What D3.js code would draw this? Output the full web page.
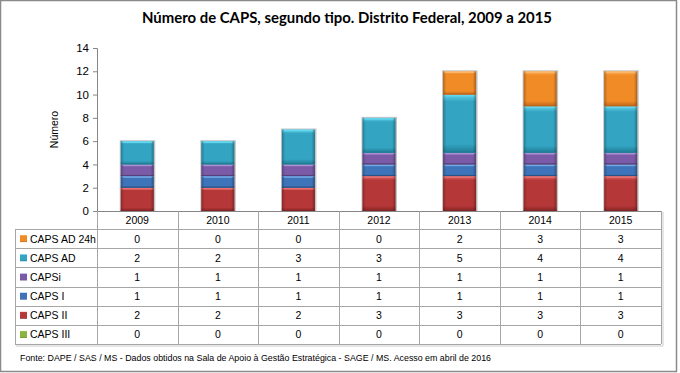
<!DOCTYPE html>
<html>
<head>
<meta charset="utf-8">
<script src="https://d3js.org/d3.v7.min.js"></script>
<style>
  body { margin: 0; background: #fff; }
  text { font-family: "Liberation Sans", Arial, sans-serif; }
</style>
</head>
<body>
<svg width="680" height="373" id="chart"></svg>
<script>

// data
var years = ['2009', '2010', '2011', '2012', '2013', '2014', '2015'];
var capsAD24h = [0, 0, 0, 0, 2, 3, 3];
var capsAD    = [2, 2, 3, 3, 5, 4, 4];
var capsi     = [1, 1, 1, 1, 1, 1, 1];
var capsI     = [1, 1, 1, 1, 1, 1, 1];
var capsII    = [2, 2, 2, 3, 3, 3, 3];
var capsIII   = [0, 0, 0, 0, 0, 0, 0];
var yTicks = [0, 2, 4, 6, 8, 10, 12, 14];

// stack order bottom -> top, table order is the reverse
var series = [
  {key: 'CAPS III',    values: capsIII,   c: ['#b8d76e', '#8cb23f', '#65842a']},
  {key: 'CAPS II',     values: capsII,    c: ['#ec7070', '#b63738', '#842425']},
  {key: 'CAPS I',      values: capsI,     c: ['#72a8e6', '#3e74b9', '#2a5288']},
  {key: 'CAPSi',       values: capsi,     c: ['#ad90d4', '#7b5ba7', '#56407a']},
  {key: 'CAPS AD',     values: capsAD,    c: ['#64d6ee', '#33a4c2', '#1f7b93']},
  {key: 'CAPS AD 24h', values: capsAD24h, c: ['#fcb566', '#f18b26', '#be651a']}
];

var svg = d3.select('#chart');

var plotL = 97, plotR = 661, plotT = 48, plotB = 211;
var rowTop = 229, rowH = 19.17, legendLeft = 15;

var x = d3.scaleBand()
    .domain(years)
    .range([plotL, plotR])
    .paddingInner(0.59)
    .paddingOuter(0.295);

var y = d3.scaleLinear()
    .domain([0, 14])
    .range([plotB, plotT]);

// gradients
var defs = svg.append('defs');
series.forEach(function (s, i) {
  var g = defs.append('linearGradient')
      .attr('id', 'gv' + i)
      .attr('x1', 0).attr('y1', 0).attr('x2', 0).attr('y2', 1);
  g.append('stop').attr('offset', '0%').attr('stop-color', s.c[0]);
  g.append('stop').attr('offset', '12%').attr('stop-color', s.c[1]);
  g.append('stop').attr('offset', '85%').attr('stop-color', s.c[1]);
  g.append('stop').attr('offset', '100%').attr('stop-color', s.c[2]);
});
var gh = defs.append('linearGradient').attr('id', 'gh')
    .attr('x1', 0).attr('y1', 0).attr('x2', 1).attr('y2', 0);
gh.append('stop').attr('offset', '0%').attr('stop-color', '#000').attr('stop-opacity', 0.25);
gh.append('stop').attr('offset', '10%').attr('stop-color', '#000').attr('stop-opacity', 0);
gh.append('stop').attr('offset', '90%').attr('stop-color', '#000').attr('stop-opacity', 0);
gh.append('stop').attr('offset', '100%').attr('stop-color', '#000').attr('stop-opacity', 0.3);

// outer frame
svg.append('rect')
    .attr('x', 0.5).attr('y', 0.5)
    .attr('width', 676).attr('height', 371)
    .attr('fill', 'none')
    .attr('stroke', '#8a8a8a')
    .attr('stroke-width', 1.5);

// title
svg.append('text')
    .attr('x', 347).attr('y', 23)
    .attr('text-anchor', 'middle')
    .style('font-family', 'Lato, sans-serif')
    .attr('font-weight', 'bold')
    .attr('font-size', '16px')
    .attr('textLength', 410)
    .attr('lengthAdjust', 'spacingAndGlyphs')
    .text('Número de CAPS, segundo tipo. Distrito Federal, 2009 a 2015');

// y axis
var yAxis = d3.axisLeft(y).tickValues(yTicks).tickSize(4).tickPadding(4);
var gy = svg.append('g')
    .attr('transform', 'translate(' + plotL + ',0)')
    .call(yAxis);
gy.select('.domain').attr('stroke', '#868686');
gy.selectAll('.tick line').attr('stroke', '#868686');
gy.selectAll('.tick text')
    .attr('font-size', '11.5px')
    .attr('fill', '#000')
    .style('font-family', '"Liberation Sans", Arial, sans-serif');

svg.append('text')
    .attr('transform', 'translate(58,' + ((plotT + plotB) / 2) + ') rotate(-90)')
    .attr('text-anchor', 'middle')
    .attr('font-size', '10.5px')
    .text('Número');

// bars
var stacked = years.map(function (yr, j) {
  var base = 0;
  return series.map(function (s, i) {
    var d = {year: yr, i: i, y0: base, y1: base + s.values[j]};
    base += s.values[j];
    return d;
  }).filter(function (d) { return d.y1 > d.y0; });
});

var bw = x.bandwidth();
var barG = svg.append('g');

// light shadow behind each stack
barG.selectAll('rect.shadow')
    .data(stacked)
    .enter().append('rect')
    .attr('class', 'shadow')
    .attr('x', function (d) { return x(d[0].year) - 1; })
    .attr('y', function (d) { return y(d[d.length - 1].y1) - 1; })
    .attr('width', bw + 2.5)
    .attr('height', function (d) { return y(0) - y(d[d.length - 1].y1) + 1; })
    .attr('fill', '#c4c4c4');

var segs = barG.selectAll('g.seg')
    .data(stacked.flat())
    .enter().append('g')
    .attr('class', 'seg');

segs.append('rect')
    .attr('x', function (d) { return x(d.year); })
    .attr('y', function (d) { return y(d.y1); })
    .attr('width', bw)
    .attr('height', function (d) { return y(d.y0) - y(d.y1); })
    .attr('fill', function (d) { return 'url(#gv' + d.i + ')'; });

segs.append('rect')
    .attr('x', function (d) { return x(d.year); })
    .attr('y', function (d) { return y(d.y1); })
    .attr('width', bw)
    .attr('height', function (d) { return y(d.y0) - y(d.y1); })
    .attr('fill', 'url(#gh)');

// top highlight and bottom bevel lines
segs.append('line')
    .attr('x1', function (d) { return x(d.year) + 2; })
    .attr('x2', function (d) { return x(d.year) + bw - 2; })
    .attr('y1', function (d) { return y(d.y1) + 1; })
    .attr('y2', function (d) { return y(d.y1) + 1; })
    .attr('stroke', function (d) { return series[d.i].c[0]; })
    .attr('stroke-width', 1.5);

segs.append('line')
    .attr('x1', function (d) { return x(d.year); })
    .attr('x2', function (d) { return x(d.year) + bw; })
    .attr('y1', function (d) { return y(d.y0) - 0.5; })
    .attr('y2', function (d) { return y(d.y0) - 0.5; })
    .attr('stroke', function (d) { return series[d.i].c[2]; })
    .attr('stroke-width', 1);

// data table
var tableRows = series.slice().reverse();
var tbl = svg.append('g');
var gridColor = '#a6a6a6';
var tableBottom = rowTop + rowH * tableRows.length;

// x axis line on top of the header row
tbl.append('line')
    .attr('x1', plotL).attr('x2', plotR)
    .attr('y1', plotB + 0.5).attr('y2', plotB + 0.5)
    .attr('stroke', '#868686');

var colEdges = [plotL].concat(years.map(function (yr) { return x(yr) - x.step() * x.paddingOuter() + x.step(); }));
colEdges.forEach(function (cx) {
  tbl.append('line')
      .attr('x1', Math.round(cx) + 0.5).attr('x2', Math.round(cx) + 0.5)
      .attr('y1', plotB).attr('y2', tableBottom)
      .attr('stroke', gridColor);
});

// horizontal row lines
d3.range(tableRows.length + 1).forEach(function (r) {
  var ry = Math.round(rowTop + r * rowH) + 0.5;
  tbl.append('line')
      .attr('x1', legendLeft).attr('x2', plotR)
      .attr('y1', ry).attr('y2', ry)
      .attr('stroke', gridColor);
});
tbl.append('line')
    .attr('x1', legendLeft + 0.5).attr('x2', legendLeft + 0.5)
    .attr('y1', rowTop).attr('y2', tableBottom)
    .attr('stroke', gridColor);
// faint shadow on right/bottom edges
tbl.append('line')
    .attr('x1', plotR + 2).attr('x2', plotR + 2)
    .attr('y1', plotB + 1).attr('y2', tableBottom + 2)
    .attr('stroke', '#dcdcdc').attr('stroke-width', 1.5);
tbl.append('line')
    .attr('x1', legendLeft + 1).attr('x2', plotR + 2)
    .attr('y1', tableBottom + 2).attr('y2', tableBottom + 2)
    .attr('stroke', '#dcdcdc').attr('stroke-width', 1.5);

// year header
tbl.selectAll('text.year')
    .data(years)
    .enter().append('text')
    .attr('class', 'year')
    .attr('x', function (d) { return x(d) + bw / 2; })
    .attr('y', (plotB + rowTop) / 2 + 4)
    .attr('text-anchor', 'middle')
    .attr('font-size', '10.5px')
    .text(function (d) { return d; });

// rows
tableRows.forEach(function (s, r) {
  var cy = rowTop + r * rowH + rowH / 2;
  var idx = series.indexOf(s);
  tbl.append('rect')
      .attr('x', 20).attr('y', cy - 3.5)
      .attr('width', 7).attr('height', 7)
      .attr('fill', 'url(#gv' + idx + ')');
  tbl.append('text')
      .attr('x', 30).attr('y', cy + 4)
      .attr('font-size', '10.5px')
      .text(s.key);
  tbl.selectAll(null)
      .data(s.values)
      .enter().append('text')
      .attr('x', function (d, j) { return x(years[j]) + bw / 2; })
      .attr('y', cy + 4)
      .attr('text-anchor', 'middle')
      .attr('font-size', '10.5px')
      .text(function (d) { return d; });
});

// source note
svg.append('text')
    .attr('x', 20).attr('y', 361)
    .attr('font-size', '9px')
    .attr('textLength', 471)
    .attr('lengthAdjust', 'spacingAndGlyphs')
    .text('Fonte: DAPE / SAS / MS - Dados obtidos na Sala de Apoio  à Gestão Estratégica - SAGE / MS. Acesso em abril de 2016');

</script>
</body>
</html>
